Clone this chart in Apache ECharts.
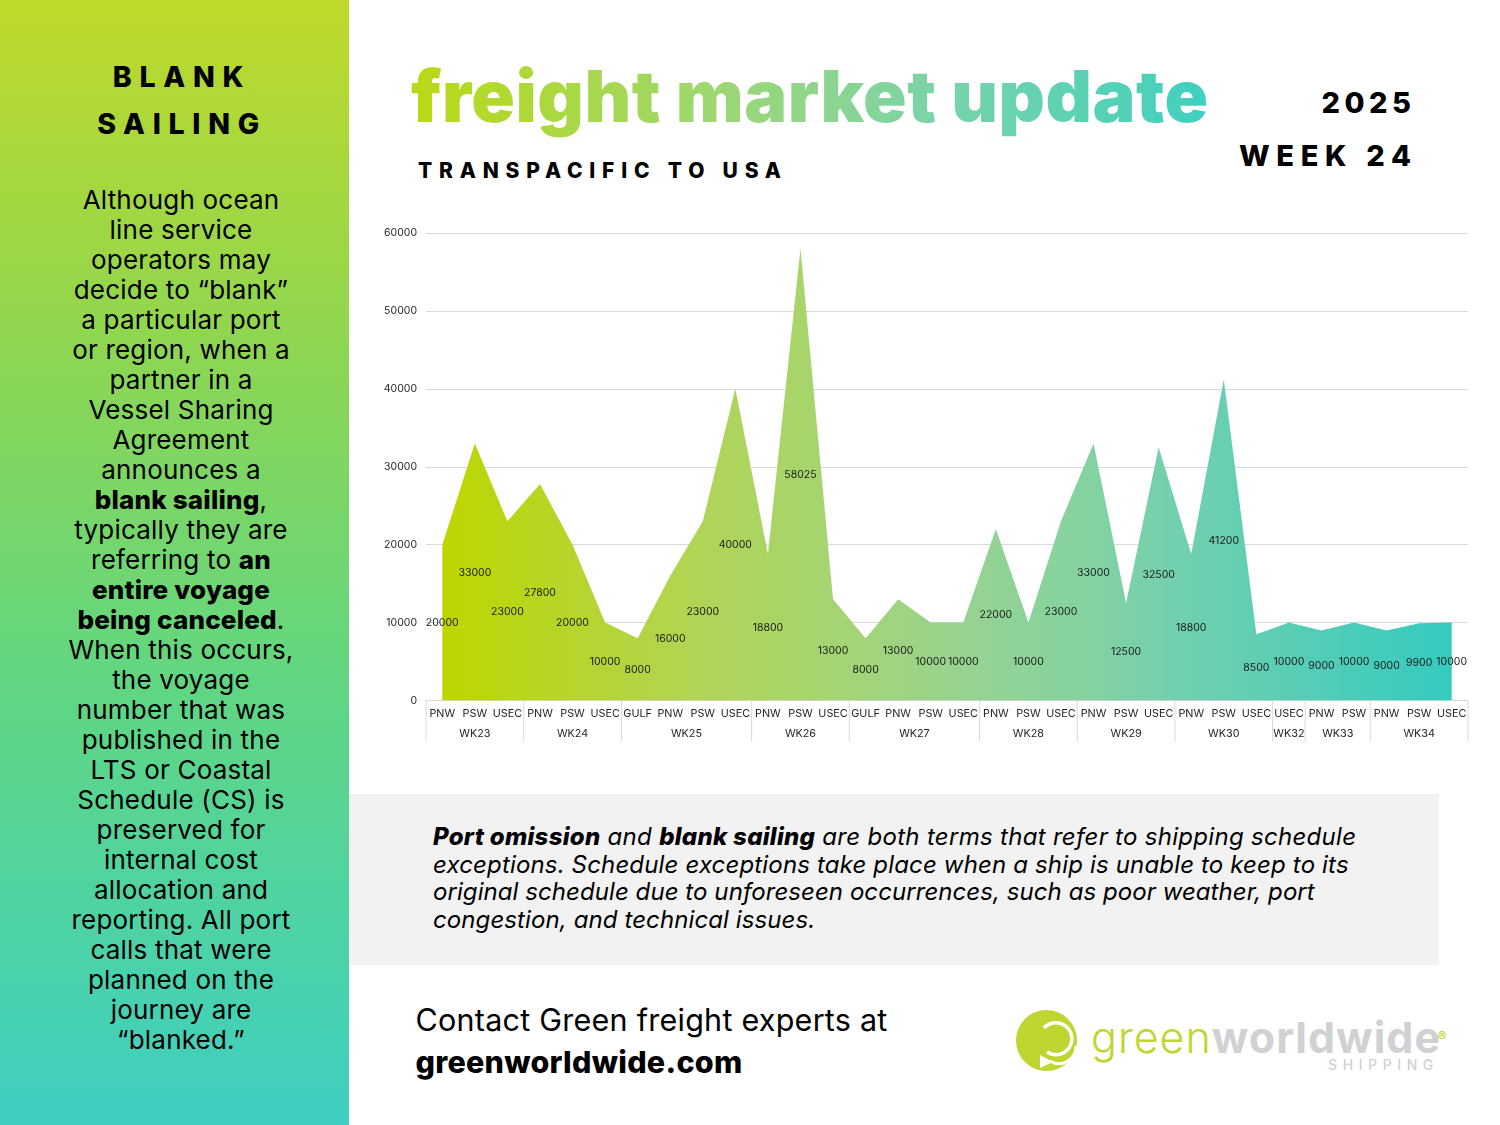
<!DOCTYPE html>
<html><head><meta charset="utf-8">
<script src="https://cdn.jsdelivr.net/npm/echarts@6/dist/echarts.min.js"></script>
<style>
html,body{margin:0;padding:0;background:#fff}
#page{position:relative;width:1500px;height:1125px;overflow:hidden;font-family:Inter,sans-serif;color:#000}
#page>div,#page>svg{position:absolute}
#chart{left:0;top:0;width:1500px;height:1125px}
#side{left:0;top:0;width:349px;height:1125px;background:linear-gradient(180deg,#bfd92b 0%,#8fd650 30%,#5fd684 62%,#3ecfc2 100%)}
#side div{position:absolute;left:0;width:362px;text-align:center;white-space:nowrap}
#sideHead{top:53px;left:1px!important;font-size:28.5px;font-weight:800;letter-spacing:7.7px;line-height:47px}
#sideBody{top:185px;font-size:26px;line-height:30px;letter-spacing:.2px}
#sideBody b{font-weight:800}
#title{left:411px;top:51px;font-size:72px;font-weight:900;letter-spacing:.5px;line-height:90px;white-space:nowrap;
background:linear-gradient(90deg,#b9d915 0%,#9bd777 40%,#7cd3a8 65%,#3fd0bf 100%);-webkit-background-clip:text;background-clip:text;color:transparent}
#sub{left:418px;top:156px;font-size:21px;font-weight:800;letter-spacing:6.8px;line-height:30px;white-space:pre}
#year{right:84.5px;top:84px;font-size:29px;font-weight:800;letter-spacing:4.5px;line-height:38px}
#week{right:82.4px;top:137px;font-size:29px;font-weight:800;letter-spacing:6.7px;line-height:38px}
#note{left:349px;top:794px;width:1090px;height:171px;background:#f2f2f2}
#noteT{left:433px;top:823px;font-size:24px;font-style:italic;line-height:27.5px;white-space:nowrap}
#noteT b{font-weight:800}
#contact{left:415.5px;top:999px;font-size:30.5px;line-height:42px;white-space:nowrap;letter-spacing:.25px}
#contact b{font-weight:800}
</style></head><body>
<div id="page">
<div id="side">
<div id="sideHead">BLANK<br>SAILING</div>
<div id="sideBody">Although ocean<br>line service<br>operators may<br>decide to “blank”<br>a particular port<br>or region, when a<br>partner in a<br>Vessel Sharing<br>Agreement<br>announces a<br><b>blank sailing</b>,<br>typically they are<br>referring to <b>an</b><br><b>entire voyage</b><br><b>being canceled</b>.<br>When this occurs,<br>the voyage<br>number that was<br>published in the<br>LTS or Coastal<br>Schedule (CS) is<br>preserved for<br>internal cost<br>allocation and<br>reporting. All port<br>calls that were<br>planned on the<br>journey are<br>“blanked.”</div>
</div>
<div id="title">freight market update</div>
<div id="sub">TRANSPACIFIC TO USA</div>
<div id="year">2025</div>
<div id="week">WEEK 24</div>
<div id="note"></div>
<div id="noteT"><span style="letter-spacing:.3px"><b>Port omission</b> and <b>blank sailing</b> are both terms that refer to shipping schedule</span><br><span style="letter-spacing:.16px">exceptions. Schedule exceptions take place when a ship is unable to keep to its</span><br><span style="letter-spacing:.07px">original schedule due to unforeseen occurrences, such as poor weather, port</span><br><span style="letter-spacing:.1px">congestion, and technical issues.</span></div>
<div id="contact">Contact Green freight experts at<br><b>greenworldwide.com</b></div>
<svg style="left:1010px;top:1000px" width="450" height="85" viewBox="0 0 450 85">
<circle cx="36.5" cy="40.5" r="30.5" fill="#bfd630"/>
<path d="M37 52 A16 16 0 1 0 34 28" fill="none" stroke="#fff" stroke-width="3.5"/>
<path d="M40 61 A17 17 0 0 0 66 46" fill="none" stroke="#fff" stroke-width="3"/>
<path d="M30 68 L30 55 L43 62 Z" fill="#fff"/>
<text x="81" y="53" font-family="Inter,sans-serif" font-size="43" font-weight="300" fill="#bfd630" letter-spacing="1">green<tspan font-weight="700" fill="#cfd1d3">worldwide</tspan></text>
<text x="432" y="41" font-family="Inter,sans-serif" font-size="13" font-weight="700" fill="#bfd630" text-anchor="middle">®</text>
<text x="318" y="70" font-family="Inter,sans-serif" font-size="14" font-weight="500" fill="#cfd1d3" letter-spacing="5.6">SHIPPING</text>
</svg>
<div id="chart"></div>
</div>
<script>
const ports = ['PNW','PSW','USEC','PNW','PSW','USEC','GULF','PNW','PSW','USEC','PNW','PSW','USEC','GULF','PNW','PSW','USEC','PNW','PSW','USEC','PNW','PSW','USEC','PNW','PSW','USEC','USEC','PNW','PSW','PNW','PSW','USEC'];
const values = [20000,33000,23000,27800,20000,10000,8000,16000,23000,40000,18800,58025,13000,8000,13000,10000,10000,22000,10000,23000,33000,12500,32500,18800,41200,8500,10000,9000,10000,9000,9900,10000];
const weeks = ['WK23','WK24','WK25','WK26','WK27','WK28','WK29','WK30','WK32','WK33','WK34'];
const weekCounts = [3,3,4,3,4,3,3,3,1,2,3];
const FONT = 'Inter, sans-serif';
const AXIS = '#d9d9d9';

let cursor = 0;
const weekSpans = weeks.map((w,i)=>{const s=cursor;cursor+=weekCounts[i];return [s,cursor-1,w];});

const chart = echarts.init(document.getElementById('chart'),null,{renderer:'canvas',width:1500,height:1125});
chart.setOption({
  animation:false,
  backgroundColor:'transparent',
  grid:{left:426,right:32,top:233,bottom:424.5,containLabel:false},
  xAxis:{type:'category',data:ports,boundaryGap:true,
    axisLine:{show:true,lineStyle:{color:AXIS,width:1}},axisTick:{show:false},
    axisLabel:{interval:0,margin:8,fontFamily:FONT,fontSize:10.8,color:'#262626',hideOverlap:false},splitLine:{show:false}},
  yAxis:{type:'value',min:0,max:60000,interval:10000,
    axisLine:{show:false},axisTick:{show:false},
    axisLabel:{margin:9,fontFamily:FONT,fontSize:10.5,color:'#262626',formatter:v=>String(v)},
    splitLine:{show:true,lineStyle:{color:AXIS,width:1}}},
  series:[
    {type:'line',data:values,symbol:'none',silent:true,lineStyle:{width:0},z:2,
     areaStyle:{opacity:1,color:new echarts.graphic.LinearGradient(0,0,1,0,[
       {offset:0,color:'#bdd600'},{offset:0.255,color:'#b0d456'},{offset:0.355,color:'#a8d46a'},{offset:0.5,color:'#99d38d'},{offset:0.64,color:'#84d2a2'},{offset:0.75,color:'#6dcfb0'},{offset:1,color:'#34cbbe'}])}},
    {type:'custom',data:values.map((v,i)=>[i,v]),z:5,clip:false,silent:true,
     renderItem(p,api){
       const c=api.coord([api.value(0),api.value(1)/2]);
       return {type:'text',style:{text:String(api.value(1)),x:c[0],y:c[1]+0.5,align:'center',verticalAlign:'middle',fontFamily:FONT,fontSize:10.5,fill:'#1a1a1a'}};
     }},
    {type:'custom',data:weekSpans,z:3,clip:false,silent:true,
     encode:{x:0},
     renderItem(p,api){
       const s=api.value(0),e=api.value(1);
       const w=api.size([1,0])[0];
       const a=api.coord([s,0]),b=api.coord([e,0]);
       const x0=a[0]-w/2,x1=b[0]+w/2,y=a[1];
       const ch=[
         {type:'line',shape:{x1:x0,y1:y,x2:x0,y2:y+41},style:{stroke:AXIS,lineWidth:1}},
         {type:'text',style:{text:weekSpans[p.dataIndex][2],x:(x0+x1)/2,y:y+33,align:'center',verticalAlign:'middle',fontFamily:FONT,fontSize:10.8,fill:'#262626'}}
       ];
       if(p.dataIndex===weekSpans.length-1) ch.push({type:'line',shape:{x1:x1,y1:y,x2:x1,y2:y+41},style:{stroke:AXIS,lineWidth:1}});
       return {type:'group',children:ch};
     }}
  ]
});
</script>
</body></html>
